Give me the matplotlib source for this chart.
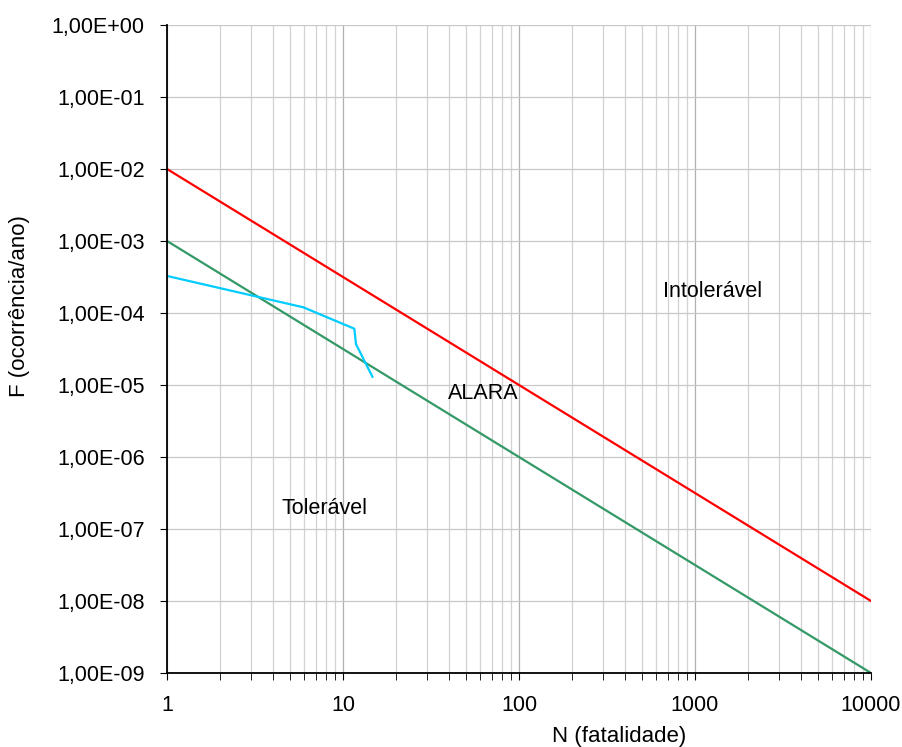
import numpy as np
import matplotlib.pyplot as plt
from matplotlib.ticker import FuncFormatter, LogLocator, FixedLocator

plt.rcParams['font.family'] = ['Liberation Sans', 'DejaVu Sans']

# criterion lines (N, F)
n_limits = [1, 10000]
f_intoleravel = [1e-2, 1e-8]
f_toleravel = [1e-3, 1e-9]

# F-N curve
n_curve = [1, 5.95, 11.6, 11.85, 14.7]
f_curve = [3.27e-4, 1.2e-4, 6.05e-5, 3.7e-5, 1.3e-5]

x_ticks = [1, 10, 100, 1000, 10000]
y_ticks = [1e-9, 1e-8, 1e-7, 1e-6, 1e-5, 1e-4, 1e-3, 1e-2, 1e-1, 1e0]


def sci_comma(v, pos):
    s = '%.2E' % v
    mant, exp = s.split('E')
    e = int(exp)
    return '%sE%s%02d' % (mant.replace('.', ','), '+' if e >= 0 else '-', abs(e))


W, H = 903, 747
fs = 15.5

fig = plt.figure(figsize=(W / 100, H / 100), dpi=100)
ax = fig.add_axes([167 / W, 1 - 673 / H, (871 - 167) / W, (673 - 25) / H])

ax.plot(n_limits, f_intoleravel, color='#FF0000', lw=1.6)
ax.plot(n_limits, f_toleravel, color='#339966', lw=1.6)
ax.plot(n_curve, f_curve, color='#00CCFF', lw=1.6)

ax.set_xscale('log')
ax.set_yscale('log')
ax.set_xlim(1, 10000)
ax.set_ylim(1e-9, 1)

ax.xaxis.set_major_locator(FixedLocator(x_ticks))
ax.xaxis.set_minor_locator(LogLocator(base=10, subs=np.arange(2, 10)))
ax.xaxis.set_major_formatter(FuncFormatter(lambda v, p: '%d' % v))
ax.yaxis.set_major_locator(FixedLocator(y_ticks))
ax.yaxis.set_minor_locator(FixedLocator([]))
ax.yaxis.set_major_formatter(FuncFormatter(sci_comma))

ax.grid(which='major', axis='x', color='#b0b0b0', lw=0.9)
ax.grid(which='major', axis='y', color='#c8c8c8', lw=0.9)
ax.grid(which='minor', axis='x', color='#d2d2d2', lw=0.9)
ax.set_axisbelow(True)

for s in ['top', 'right']:
    ax.spines[s].set_visible(False)
ax.spines['left'].set_linewidth(1.3)
ax.spines['bottom'].set_linewidth(1.3)

ax.tick_params(axis='both', which='major', direction='out', length=5, labelsize=fs)
ax.tick_params(axis='x', which='minor', direction='out', length=5)
ax.tick_params(axis='x', which='major', pad=11)
ax.tick_params(axis='y', which='major', pad=11)

# axis titles placed where the reference has them
fig.text(619 / W, 1 - 726 / H, 'N (fatalidade)', fontsize=fs + 0.5, ha='center', va='top')
fig.text(20 / W, 1 - 306 / H, 'F (ocorrência/ano)', fontsize=fs + 0.5, ha='center', va='center',
         rotation=90)

ax.text(1265, 1.96e-4, 'Intolerável', fontsize=fs, ha='center', va='center')
ax.text(62.4, 7.5e-6, 'ALARA', fontsize=fs, ha='center', va='center')
ax.text(7.8, 1.9e-7, 'Tolerável', fontsize=fs, ha='center', va='center')

fig.savefig('out.png', dpi=100)
